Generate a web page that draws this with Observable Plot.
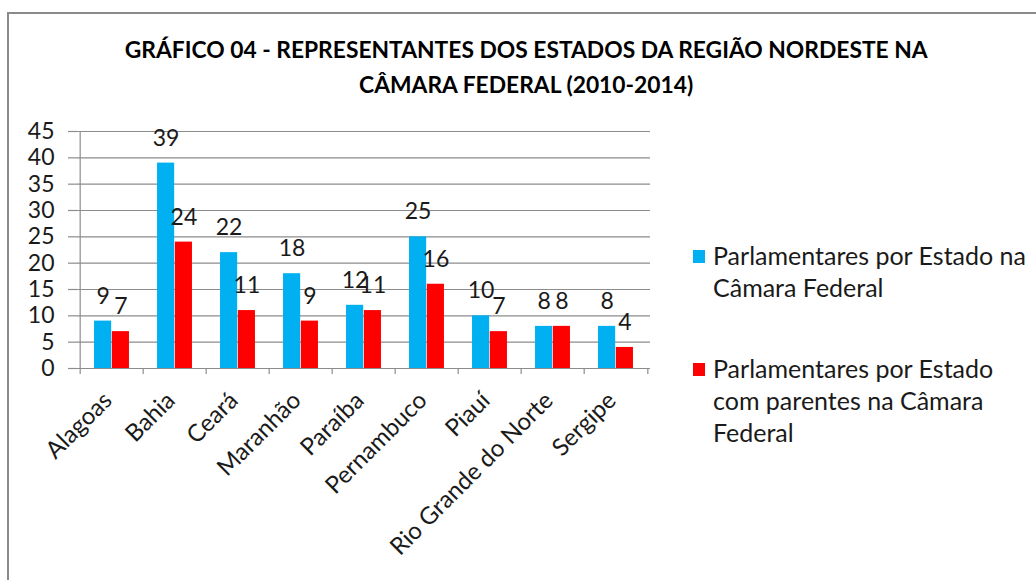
<!DOCTYPE html>
<html>
<head>
<meta charset="utf-8">
<script src="https://cdn.jsdelivr.net/npm/d3@7"></script>
<script src="https://cdn.jsdelivr.net/npm/@observablehq/plot@0.6"></script>
<style>
  html, body { margin: 0; padding: 0; background: #fff; }
  #wrap { position: relative; width: 1036px; height: 580px; overflow: hidden; background: #fff; font-family: Lato, "Open Sans", sans-serif; }
  #border { position: absolute; left: 7px; top: 12px; width: 1200px; height: 800px; border-left: 2px solid #8a8a8a; border-top: 2px solid #8a8a8a; }
  #chart { position: absolute; left: 0; top: 0; }
  .title { position: absolute; left: 0; width: 1053px; text-align: center; font-weight: 700; font-size: 22px; line-height: 35px; color: #000; white-space: nowrap; }
  .title span { display: inline-block; transform-origin: 50% 50%; }
  .leg { position: absolute; left: 713px; font-size: 25px; line-height: 32px; color: #1a1a1a; white-space: nowrap; }
  .sw { position: absolute; left: 693px; width: 12px; height: 13px; }
</style>
</head>
<body>
<div id="wrap">
  <div id="border"></div>
  <div id="chart"></div>
  <div class="title" id="t1" style="top:32px"><span>GRÁFICO 04 - REPRESENTANTES DOS ESTADOS DA REGIÃO NORDESTE NA</span></div>
  <div class="title" id="t2" style="top:67px"><span>CÂMARA FEDERAL (2010-2014)</span></div>
  <div id="legend"></div>
</div>
<script>
const categories = ["Alagoas", "Bahia", "Ceará", "Maranhão", "Paraíba", "Pernambuco", "Piauí", "Rio Grande do Norte", "Sergipe"];
const parlamentares = [9, 39, 22, 18, 12, 25, 10, 8, 8];
const comParentes = [7, 24, 11, 9, 11, 16, 7, 8, 4];
const yTicks = [0, 5, 10, 15, 20, 25, 30, 35, 40, 45];
const seriesNames = [
  ["Parlamentares por Estado na", "Câmara Federal"],
  ["Parlamentares por Estado", "com parentes na Câmara", "Federal"]
];
const seriesColors = ["#00B0F0", "#FF0000"];

const W = 1036, H = 580, ML = 77, MR = 386, MT = 131, MB = 212;
const bw = (W - ML - MR) / categories.length;
const barW = 17.8;
const gray = "#8c8c8c";

const blue = categories.map((c, i) => ({cat: c, v: parlamentares[i]}));
const red = categories.map((c, i) => ({cat: c, v: comParentes[i]}));

const chart = Plot.plot({
  width: W, height: H,
  marginLeft: ML, marginRight: MR, marginTop: MT, marginBottom: MB,
  style: {fontFamily: "Lato, 'Open Sans', sans-serif", fontSize: "23px", background: "transparent", color: "#000"},
  x: {domain: categories, padding: 0},
  y: {domain: [0, 45]},
  marks: [
    Plot.gridY(yTicks, {stroke: gray, strokeOpacity: 1, strokeWidth: 1.2}),
    Plot.axisY({ticks: yTicks, tickSize: 9, tickPadding: 14, stroke: gray, strokeWidth: 1.2, fill: "#1a1a1a", fontSize: 23, label: null}),
    Plot.ruleX([categories[0]], {x: d => d, dx: -bw / 2, y1: 0, y2: 45, stroke: gray, strokeWidth: 1.2}),
    Plot.ruleX(categories, {x: d => d, dx: -bw / 2, y1: 0, y2: 0, insetBottom: -6, stroke: gray, strokeWidth: 1.2}),
    Plot.ruleX([categories[categories.length - 1]], {x: d => d, dx: bw / 2, y1: 0, y2: 0, insetBottom: -6, stroke: gray, strokeWidth: 1.2}),
    Plot.barY(blue, {x: "cat", y: "v", fill: seriesColors[0], insetLeft: bw / 2 - barW, insetRight: bw / 2}),
    Plot.barY(red, {x: "cat", y: "v", fill: seriesColors[1], insetLeft: bw / 2, insetRight: bw / 2 - barW}),
    Plot.text(blue, {x: "cat", y: "v", text: d => String(d.v), dx: -barW / 2, dy: -17.5, lineAnchor: "bottom", fill: "#1a1a1a", fontSize: 23}),
    Plot.text(red, {x: "cat", y: "v", text: d => String(d.v), dx: barW / 2, dy: -17.5, lineAnchor: "bottom", fill: "#1a1a1a", fontSize: 23}),
    Plot.axisX({tickSize: 0, tickPadding: 28, tickRotate: -45, dx: -4, fill: "#1a1a1a", fontSize: 24, label: null})
  ]
});
document.getElementById("chart").appendChild(chart);

// legend
const legend = document.getElementById("legend");
const legTops = [239, 352];
const swTops = [250, 363];
seriesNames.forEach((lines, i) => {
  const sw = document.createElement("div");
  sw.className = "sw";
  sw.style.top = swTops[i] + "px";
  sw.style.background = seriesColors[i];
  legend.appendChild(sw);
  const t = document.createElement("div");
  t.className = "leg";
  t.style.top = legTops[i] + "px";
  t.innerHTML = lines.join("<br>");
  legend.appendChild(t);
});

// squeeze title to Calibri-like width
const s1 = document.querySelector("#t1 span");
const s2 = document.querySelector("#t2 span");
const k = 803 / s1.getBoundingClientRect().width;
s1.style.transform = `scaleX(${k})`;
s2.style.transform = `scaleX(${k})`;
</script>
</body>
</html>
